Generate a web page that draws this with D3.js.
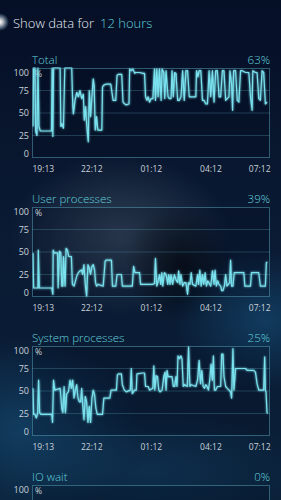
<!DOCTYPE html>
<html>
<head>
<meta charset="UTF-8">
<title>Show data for 12 hours</title>
<script src="https://d3js.org/d3.v7.min.js"></script>
<style>
  html, body { margin: 0; padding: 0; background: #07142b; overflow: hidden; }
  svg { display: block; font-family: "Open Sans", "Noto Sans", sans-serif; }
</style>
</head>
<body>
<div id="chart"></div>
<script>
// minutes since 19:13, percent
const totalData = [[3,35],[5,100],[9,100],[11,30],[15,25],[18,100],[21,35],[25,30],[45,30],[59,30],[61,100],[63,24],[65,100],[85,100],[87,35],[90,38],[95,33],[99,100],[103,100],[120,100],[123,60],[125,49],[130,64],[135,73],[140,68],[145,75],[150,66],[155,71],[158,42],[162,57],[165,38],[170,18],[173,75],[177,46],[181,68],[185,88],[188,79],[191,31],[195,46],[199,31],[211,31],[213,79],[217,81],[223,82],[238,82],[245,64],[253,64],[257,92],[261,93],[271,93],[275,62],[280,60],[285,59],[293,60],[295,99],[300,97],[305,99],[310,94],[313,95],[325,95],[335,94],[340,94],[343,68],[347,64],[351,68],[355,62],[360,66],[365,66],[370,99],[373,64],[377,99],[381,68],[385,99],[390,64],[393,99],[398,95],[401,66],[405,97],[411,68],[415,66],[420,66],[423,97],[427,68],[431,95],[435,94],[440,64],[445,64],[450,68],[455,97],[460,64],[465,97],[470,97],[475,68],[485,68],[495,68],[497,97],[501,90],[505,97],[510,97],[515,64],[520,64],[525,60],[530,60],[535,97],[540,68],[545,97],[550,62],[555,97],[560,97],[565,68],[570,68],[575,97],[580,97],[585,64],[590,66],[595,68],[598,97],[603,82],[606,53],[609,97],[615,97],[620,64],[625,62],[630,97],[635,97],[645,95],[655,95],[660,68],[665,53],[667,97],[675,95],[680,95],[685,66],[690,64],[695,97],[700,95],[705,60],[710,62]];

const userData = [[3,49],[5,10],[15,10],[18,10],[19,52],[22,10],[35,10],[60,10],[63,3],[64,52],[67,49],[77,49],[79,10],[83,51],[87,49],[90,12],[93,12],[95,45],[100,12],[103,54],[107,52],[111,45],[119,45],[122,14],[127,12],[130,16],[135,23],[140,27],[145,29],[150,30],[153,25],[157,36],[161,14],[165,1],[169,36],[173,32],[177,25],[181,34],[185,36],[189,30],[192,16],[195,12],[200,14],[215,12],[221,40],[225,41],[240,41],[243,12],[253,12],[257,25],[270,25],[273,12],[303,12],[307,34],[311,27],[325,27],[328,14],[365,14],[370,15],[373,43],[377,12],[380,16],[385,25],[389,14],[392,27],[395,12],[400,27],[405,25],[410,14],[413,25],[417,14],[420,25],[425,14],[430,25],[435,19],[440,16],[443,29],[447,14],[450,25],[455,12],[460,16],[465,16],[470,3],[473,16],[477,14],[481,27],[485,14],[495,12],[500,25],[503,14],[507,30],[511,12],[515,25],[519,14],[523,27],[527,12],[531,18],[540,12],[545,29],[550,14],[553,30],[557,12],[561,18],[565,14],[570,12],[573,7],[577,7],[581,12],[585,25],[589,12],[597,16],[600,41],[603,12],[607,12],[611,27],[640,27],[643,12],[660,12],[663,27],[685,27],[690,12],[705,12],[708,38],[711,39]];

const systemData = [[3,53],[5,24],[9,24],[13,20],[17,25],[20,62],[23,26],[27,24],[60,24],[62,15],[65,62],[69,51],[85,53],[90,31],[93,26],[97,55],[101,26],[105,47],[110,49],[115,62],[119,53],[123,62],[127,42],[131,51],[135,57],[139,42],[143,38],[147,38],[150,53],[153,36],[157,18],[161,44],[165,38],[169,15],[173,33],[177,15],[181,42],[185,51],[189,46],[193,31],[197,24],[213,24],[217,42],[235,42],[239,51],[255,51],[258,68],[261,69],[270,69],[273,57],[279,51],[285,49],[297,51],[300,75],[303,47],[310,51],[315,51],[317,69],[335,70],[340,70],[343,55],[351,55],[355,51],[365,53],[368,78],[371,51],[375,67],[379,66],[383,51],[387,49],[393,51],[398,66],[402,71],[405,51],[408,73],[411,66],[423,66],[427,55],[431,55],[435,66],[438,55],[441,89],[445,86],[450,89],[453,86],[457,55],[461,57],[469,55],[473,99],[477,55],[481,57],[495,55],[500,62],[505,84],[509,58],[513,73],[517,55],[521,53],[525,57],[529,55],[533,51],[537,62],[541,80],[545,62],[548,89],[551,51],[555,51],[560,55],[570,55],[573,91],[577,91],[580,66],[585,55],[590,53],[595,51],[600,49],[603,42],[607,97],[610,51],[615,75],[645,75],[650,73],[670,73],[675,71],[680,58],[685,51],[700,51],[703,88],[705,51],[707,49],[710,26],[712,25]];

const ioData = [[0,0],[719,0]];

const panelTitles = ["Total", "User processes", "System processes", "IO wait"];
const panelPercents = ["63%", "39%", "25%", "0%"];
const panelSeries = [totalData, userData, systemData, ioData];
const yTicks = [0, 25, 50, 75, 100];
const timeLabels = ["19:13", "22:12", "01:12", "04:12", "07:12"];

const W = 281, H = 500;
const cyan = "#62cfdc";
const left = 32, right = 270, boxH = 90, firstTop = 68, step = 139;

const start = new Date(2014, 5, 1, 19, 13);
const toDate = m => new Date(start.getTime() + m * 60000);
const tickDates = timeLabels.map(s => {
  const [h, m] = s.split(":").map(Number);
  const d = new Date(2014, 5, 1, h, m);
  if (h < 19) d.setDate(d.getDate() + 1);
  return d;
});

const svg = d3.select("#chart").append("svg")
  .attr("width", W).attr("height", H);

const defs = svg.append("defs");
function radial(id, stops) {
  const g = defs.append("radialGradient").attr("id", id);
  stops.forEach(s => g.append("stop").attr("offset", s[0]).attr("stop-color", s[1]).attr("stop-opacity", s[2]));
}
const lg = defs.append("linearGradient").attr("id", "bg").attr("x1", 0).attr("y1", 0).attr("x2", 0).attr("y2", 1);
lg.append("stop").attr("offset", 0).attr("stop-color", "#050f26");
lg.append("stop").attr("offset", 0.45).attr("stop-color", "#0a1a33");
lg.append("stop").attr("offset", 1).attr("stop-color", "#0a2038");
radial("haze", [[0, "#4d5f70", 0.55], [1, "#4d5f70", 0]]);
radial("dark", [[0, "#000000", 0.6], [1, "#000000", 0]]);
radial("blue", [[0, "#16507a", 0.6], [1, "#16507a", 0]]);
radial("flash", [[0, "#ffffff", 1], [0.35, "#ffffff", 0.7], [1, "#9fd8ff", 0]]);

const blur = defs.append("filter").attr("id", "glow").attr("x", "-5%").attr("y", "-5%").attr("width", "110%").attr("height", "110%");
blur.append("feGaussianBlur").attr("stdDeviation", 1.2).attr("result", "b");
const merge = blur.append("feMerge");
merge.append("feMergeNode").attr("in", "b");
merge.append("feMergeNode").attr("in", "SourceGraphic");

svg.append("rect").attr("width", W).attr("height", H).attr("fill", "url(#bg)");
svg.append("ellipse").attr("cx", 120).attr("cy", 235).attr("rx", 110).attr("ry", 80).attr("fill", "url(#haze)");
svg.append("ellipse").attr("cx", 180).attr("cy", 265).attr("rx", 55).attr("ry", 60).attr("fill", "url(#dark)");
svg.append("ellipse").attr("cx", 20).attr("cy", 430).attr("rx", 120).attr("ry", 90).attr("fill", "url(#blue)");
svg.append("ellipse").attr("cx", 265).attr("cy", 320).attr("rx", 90).attr("ry", 70).attr("fill", "url(#blue)");
svg.append("ellipse").attr("cx", 150).attr("cy", 470).attr("rx", 160).attr("ry", 60).attr("fill", "url(#blue)").attr("opacity", 0.5);

// header
svg.append("circle").attr("cx", 0).attr("cy", 22).attr("r", 9).attr("fill", "url(#flash)");
const head = svg.append("text").attr("x", 13).attr("y", 28).attr("font-size", 13).attr("font-weight", 300);
head.append("tspan").attr("fill", "#e6ecf2").text("Show data for");
head.append("tspan").attr("fill", cyan).attr("dx", 6).text("12 hours");

const x = d3.scaleTime().domain([start, toDate(719)]).range([left, right]);

panelSeries.forEach((data, i) => {
  const top = firstTop + i * step;
  const y = d3.scaleLinear().domain([0, 100]).range([top + boxH, top]);
  const g = svg.append("g");

  g.append("text").attr("x", left).attr("y", top - 4)
    .attr("fill", cyan).attr("font-size", 11.5).attr("font-weight", 300)
    .text(panelTitles[i]);
  g.append("text").attr("x", right).attr("y", top - 4).attr("text-anchor", "end")
    .attr("fill", cyan).attr("font-size", 11.5).attr("font-weight", 300)
    .text(panelPercents[i]);

  g.append("rect").attr("x", left).attr("y", top).attr("width", right - left).attr("height", boxH)
    .attr("fill", "rgba(0,8,20,0.18)");

  g.selectAll(".grid").data(yTicks.filter(d => d > 0 && d < 100)).enter()
    .append("line").attr("class", "grid")
    .attr("x1", left).attr("x2", right)
    .attr("y1", d => y(d)).attr("y2", d => y(d))
    .attr("stroke", "rgba(90,160,180,0.3)").attr("stroke-width", 1);

  // only tick labels that fall inside the page
  const shown = yTicks.filter(d => y(d) + 6 < H);
  const yAxis = g.append("g").attr("transform", `translate(${left - 2},0)`)
    .call(d3.axisLeft(y).tickValues(shown).tickSize(0).tickPadding(1));
  yAxis.select(".domain").remove();
  yAxis.selectAll("text")
    .attr("fill", "#c9d2da").attr("font-size", 9).attr("font-family", "Open Sans, sans-serif")
    .attr("transform", d => d === 100 ? "translate(0,5)" : d === 0 ? "translate(0,-4)" : null);

  g.append("text").attr("x", left + 3).attr("y", top + 9)
    .attr("fill", "#c9d2da").attr("font-size", 8.5).text("%");

  const clipId = "clip" + i;
  defs.append("clipPath").attr("id", clipId).append("rect")
    .attr("x", left).attr("y", top - 1).attr("width", right - left).attr("height", boxH + 2);

  g.append("path").datum(data)
    .attr("clip-path", `url(#${clipId})`)
    .attr("fill", "none").attr("stroke", "#7ae2ee").attr("stroke-width", 1.2)
    .attr("stroke-linejoin", "round").attr("filter", "url(#glow)")
    .attr("d", d3.line().x(d => x(toDate(d[0]))).y(d => y(d[1])));

  g.append("rect").attr("x", left + 0.5).attr("y", top + 0.5).attr("width", right - left - 1).attr("height", boxH - 1)
    .attr("fill", "none").attr("stroke", "rgba(90,165,185,0.5)").attr("stroke-width", 1);

  if (top + boxH + 14 < H) {
    const xAxis = g.append("g").attr("transform", `translate(0,${top + boxH})`)
      .call(d3.axisBottom(x).tickValues(tickDates).tickFormat(d3.timeFormat("%H:%M")).tickSize(0).tickPadding(8));
    xAxis.select(".domain").remove();
    xAxis.selectAll("text")
      .attr("fill", "#c9d2da").attr("font-size", 8.5).attr("font-family", "Open Sans, sans-serif")
      .attr("text-anchor", (d, j) => j === 0 ? "start" : j === timeLabels.length - 1 ? "end" : "middle");
  }
});
</script>
</body>
</html>
